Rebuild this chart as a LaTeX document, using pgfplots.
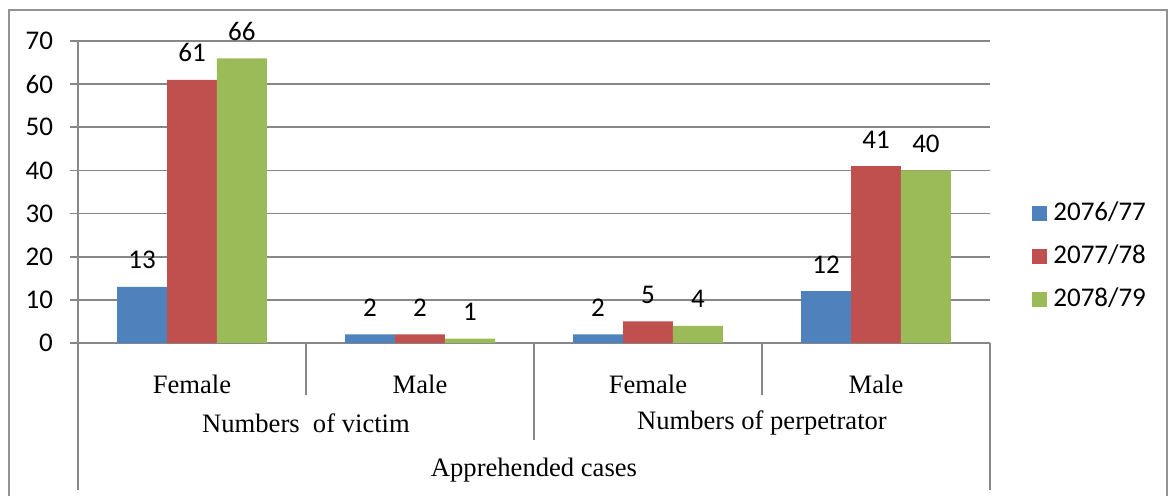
\documentclass[border=0pt]{standalone}
\usepackage{fontspec}
\setmainfont{Liberation Serif}
\newfontfamily\carlito{Carlito}
\usepackage{pgfplots}
\pgfplotsset{compat=1.18}
\definecolor{c1}{HTML}{4F81BD}
\definecolor{c2}{HTML}{C0504D}
\definecolor{c3}{HTML}{9BBB59}
\definecolor{gridgray}{HTML}{878787}
\newcommand{\numfont}{\carlito\fontsize{13.5}{15}\selectfont}
\newcommand{\catfont}{\fontsize{13.3}{15}\selectfont}
\begin{document}
\begin{tikzpicture}
\useasboundingbox (-39pt,-76pt) rectangle (546.5pt,171.5pt);
\draw[gridgray!90, line width=0.8pt] (-34.5pt,-82pt) rectangle (544.5pt,166.5pt);
\begin{axis}[
  scale only axis, width=456pt, height=151pt,
  xmin=-0.5, xmax=3.5, ymin=0, ymax=70,
  ytick={0,10,...,70},
  xtick={0,1,2,3}, xticklabels={Female,Male,Female,Male},
  x tick style={draw=none},
  xticklabel style={font=\catfont, anchor=center, yshift=-16.5pt},
  axis x line=bottom, axis y line=left,
  axis line style={-, gridgray, line width=0.9pt},
  ymajorgrids, grid style={gridgray, line width=0.9pt},
  tick align=outside, major tick length=4pt,
  y tick style={gridgray, line width=0.9pt},
  yticklabel style={font=\numfont, xshift=-5pt},
  /pgf/number format/assume math mode=true,
  ybar=0pt, bar width=0.219,
  nodes near coords,
  every node near coord/.append style={font=\numfont, text=black, yshift=5.5pt},
  clip=false,
  legend style={draw=none, fill=none, at={(1.046,0.288)}, anchor=west,
    inner sep=0pt, font=\numfont, row sep=8.5pt, column sep=3pt,
    nodes={inner sep=0pt, text height=10pt, text depth=3pt}},
  legend cell align=left,
  legend image code/.code={\fill[#1] (0pt,-3.75pt) rectangle (7.5pt,3.75pt);},
]
\addplot[fill=c1, draw=none] coordinates {(0,13) (1,2) (2,2) (3,12)};
\addplot[fill=c2, draw=none] coordinates {(0,61) (1,2) (2,5) (3,41)};
\addplot[fill=c3, draw=none] coordinates {(0,66) (1,1) (2,4) (3,40)};
\legend{2076/77,2077/78,2078/79}
\draw[gridgray, line width=0.9pt] (axis cs:0.5,0) -- ++(0pt,-26pt);
\draw[gridgray, line width=0.9pt] (axis cs:2.5,0) -- ++(0pt,-26pt);
\draw[gridgray, line width=0.9pt] (axis cs:1.5,0) -- ++(0pt,-48.5pt);
\draw[gridgray, line width=0.9pt] (axis cs:-0.5,0) -- ++(0pt,-73.5pt);
\draw[gridgray, line width=0.9pt] (axis cs:3.5,0) -- ++(0pt,-73.5pt);
\node[font=\catfont] at (axis cs:0.5,0) [yshift=-40pt] {Numbers\ \ of victim};
\node[font=\catfont] at (axis cs:2.5,0) [yshift=-40pt] {Numbers of perpetrator};
\node[font=\catfont] at (axis cs:1.5,0) [yshift=-63.5pt] {Apprehended cases};
\end{axis}
\end{tikzpicture}
\end{document}
